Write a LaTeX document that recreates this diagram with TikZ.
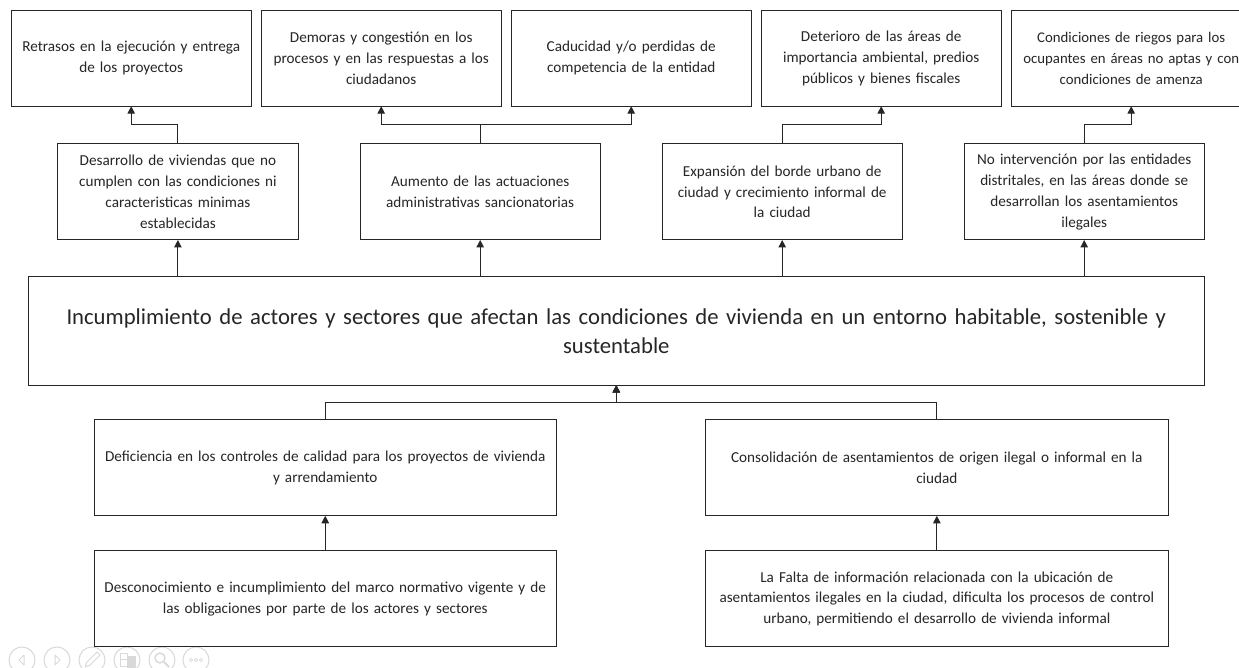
\documentclass[tikz,border=0pt]{standalone}
\usepackage{fontspec}
\setmainfont{Carlito}
\usetikzlibrary{arrows.meta}
\definecolor{ink}{HTML}{262626}
\definecolor{tool}{HTML}{D9D9D9}
\tikzset{
  box/.style={draw=ink,line width=1pt,fill=white,text=ink,align=center,anchor=north west,outer sep=0pt,
    inner sep=0pt,font=\fontsize{15.2}{20.8}\selectfont,minimum height=96pt,minimum width=240.4pt,text width=234pt},
  midbox/.style={box,minimum height=96.2pt},
  edgebox/.style={box,font=\fontsize{14.8}{20.8}\selectfont},
  widebox/.style={box,minimum width=462.5pt,text width=456pt},
  mainbox/.style={box,minimum width=1176pt,minimum height=108.2pt,text width=1150pt,font=\fontsize{22.7}{29}\selectfont},
  link/.style={draw=ink,line width=1pt,-{Triangle[length=7.5pt,width=7.5pt]}},
  toolring/.style={draw=tool,line width=1pt,fill=white,circle,minimum size=26pt,inner sep=0pt},
  toolmark/.style={draw=tool,line width=1pt,line join=round}
}
\begin{document}
\begin{tikzpicture}[x=1pt,y=-1pt]
\useasboundingbox (0,0) rectangle (1239,668);
\clip (0,0) rectangle (1239,668);
\fill[white] (0,0) rectangle (1239,668);
% viewer toolbar
\foreach \n/\x in {a/22,b/57,c/92,d/127,e/162,f/196}{
  \node[toolring] (ring\n) at (\x,660) {};
}
\draw[toolmark] (24,655) -- (19,660) -- (24,665) -- cycle;
\draw[toolmark] (55,655) -- (60,660) -- (55,665) -- cycle;
\draw[toolmark] (85,667) -- (87,662) -- (97,652) -- (100,655) -- (90,665) -- cycle;
\draw[toolmark] (120,653) rectangle (127,659);
\draw[toolmark,fill=tool] (127,656) rectangle (135,667);
\draw[toolmark] (120,659) rectangle (127,666);
\draw[toolmark,line width=1.4pt] (160,658) circle (5pt);
\draw[toolmark,line width=2pt] (164,662) -- (169,667);
\draw[toolmark,line width=.7pt] (191,660) circle (1.7pt) (196,660) circle (1.7pt) (201,660) circle (1.7pt);
% top row
\node[box] (t1) at (11,10.2) {Retrasos en la ejecución y entrega\\de los proyectos};
\node[box] (t2) at (261,10.2) {Demoras y congestión en los\\procesos y en las respuestas a los\\ciudadanos};
\node[box] (t3) at (511,10.2) {Caducidad y/o perdidas de\\competencia de la entidad};
\node[box] (t4) at (761,10.2) {Deterioro de las áreas de\\importancia ambiental, predios\\públicos y bienes fiscales};
\node[edgebox] (t5) at (1011,10.2) {Condiciones de riegos para los\\ocupantes en áreas no aptas y con\\condiciones de amenza};
% middle row
\node[midbox] (m1) at (57.7,143.8) {Desarrollo de viviendas que no\\cumplen con las condiciones ni\\caracteristicas minimas\\establecidas};
\node[midbox] (m2) at (360,143.8) {Aumento de las actuaciones\\administrativas sancionatorias};
\node[midbox] (m3) at (662,143.8) {Expansión del borde urbano de\\ciudad y crecimiento informal de\\la ciudad};
\node[midbox] (m4) at (964,143.8) {No intervención por las entidades\\distritales, en las áreas donde se\\desarrollan los asentamientos\\ilegales};
% main
\node[mainbox] (c) at (28.3,276.8) {Incumplimiento de actores y sectores que afectan las condiciones de vivienda en un entorno habitable, sostenible y\\sustentable};
% causes
\node[widebox,minimum height=96.3pt] (l1) at (94,419.5) {Deficiencia en los controles de calidad para los proyectos de vivienda\\y arrendamiento};
\node[widebox,minimum height=96.3pt] (l2) at (705.6,419.5) {Consolidación de asentamientos de origen ilegal o informal en la\\ciudad};
\node[widebox] (b1) at (94,550.8) {Desconocimiento e incumplimiento del marco normativo vigente y de\\las obligaciones por parte de los actores y sectores};
\node[widebox] (b2) at (705.6,550.8) {La Falta de información relacionada con la ubicación de\\asentamientos ilegales en la ciudad, dificulta los procesos de control\\urbano, permitiendo el desarrollo de vivienda informal};
% effect elbows
\coordinate (elbowtop) at (0,125);
\coordinate (elbowlow) at (0,402.5);
\draw[link] (m1.north) -- (m1.north |- elbowtop) -| (t1.south);
\draw[link] (m2.north) -- (m2.north |- elbowtop) -| (t2.south);
\draw[link] (m2.north) -- (m2.north |- elbowtop) -| (t3.south);
\draw[link] (m3.north) -- (m3.north |- elbowtop) -| (t4.south);
\draw[link] (m4.north) -- (m4.north |- elbowtop) -| (t5.south);
% up to middle row
\draw[link] (m1.south |- c.north) -- (m1.south);
\draw[link] (m2.south |- c.north) -- (m2.south);
\draw[link] (m3.south |- c.north) -- (m3.south);
\draw[link] (m4.south |- c.north) -- (m4.south);
% causes to main
\draw[link] (l1.north) -- (l1.north |- elbowlow) -| (c.south);
\draw[link] (l2.north) -- (l2.north |- elbowlow) -| (c.south);
\draw[link] (b1.north) -- (l1.south);
\draw[link] (b2.north) -- (l2.south);
\end{tikzpicture}
\end{document}
